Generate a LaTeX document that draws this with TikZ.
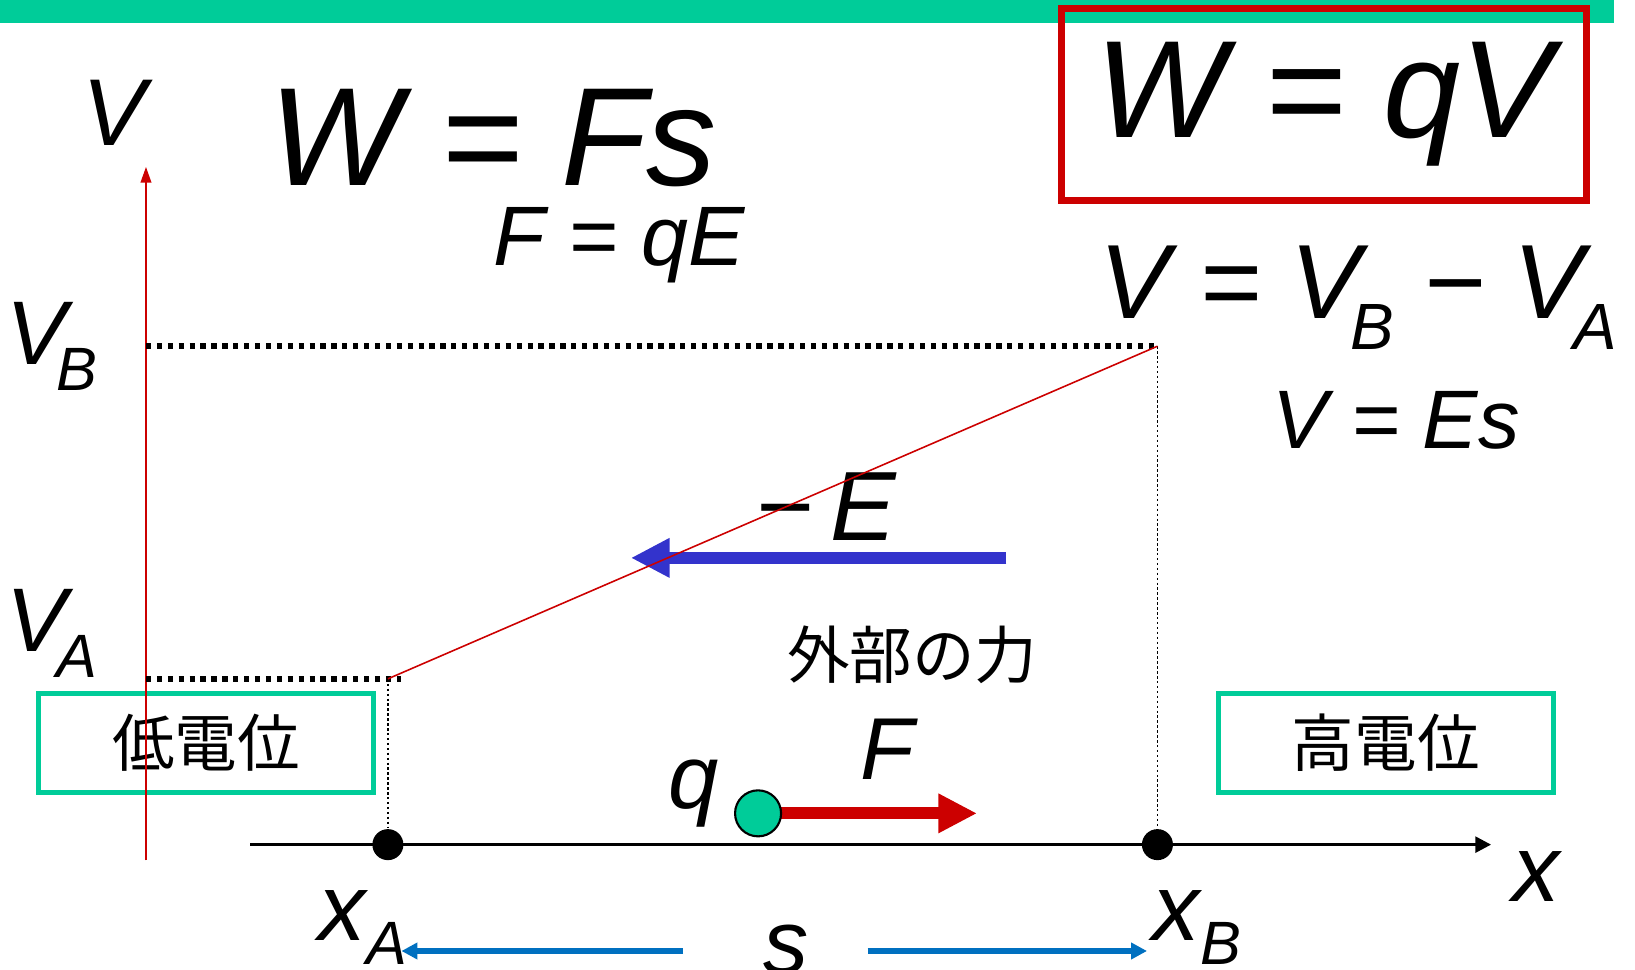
\documentclass[tikz,border=0pt]{standalone}
\usepackage{fontspec}
\setmainfont{Liberation Sans}
\newfontfamily\jpfont{Noto Sans CJK JP}
\usetikzlibrary{arrows.meta,positioning}
\definecolor{topgreen}{RGB}{0,204,153}
\definecolor{workred}{RGB}{204,0,0}
\definecolor{fieldblue}{RGB}{51,51,204}
\definecolor{spanblue}{RGB}{0,112,192}
\newcommand{\fsz}[1]{\fontsize{#1}{#1}\selectfont}
\newcommand{\lowsub}[3]{\raisebox{-#2}{\fsz{#1}#3}}
\tikzset{
    eq/.style={inner sep=0pt,anchor=base west,font=\itshape},
    potbox/.style={draw=topgreen,line width=1.5pt,minimum width=3.35cm,minimum height=0.99cm,inner sep=0pt,font=\jpfont\fsz{17.8pt}},
    levelline/.style={line width=1.7pt,dash pattern=on 1.5pt off 1.6pt},
    dropline/.style={line width=0.4pt,dash pattern=on 0.7pt off 0.7pt},
    blackdot/.style={circle,fill=black,inner sep=0pt,minimum size=0.31cm},
    fatarrow/.style={line width=3.4pt,-{Triangle[length=11pt,width=10.5pt]}},
    spanarrow/.style={spanblue,line width=1.5pt,-{Triangle[length=4.5pt,width=4.5pt]}},
}
\begin{document}
\begin{tikzpicture}[x=0.010427cm,y=-0.010427cm]
    \useasboundingbox (0,0) rectangle (1568,930);
    \fill[topgreen] (0,0) rectangle (1548,22);
    \node[draw=workred,line width=2pt,minimum width=5.245cm,minimum height=1.92cm,inner sep=0pt,font=\itshape\fsz{39.4pt}] (qvbox) at (1270,100) {W = qV};
    \node[eq,font=\itshape\fsz{39.8pt}] (wfs) at (258,178) {W = Fs};
    \node[eq,font=\itshape\fsz{24pt}] (fqe) at (473,255) {F = qE};
    \node[eq,font=\itshape\fsz{30pt}] (vdiff) at (1054,305) {V = V\kern-3pt\lowsub{18.6pt}{8.9pt}{B} − V\kern-3pt\lowsub{18.6pt}{8.9pt}{A}};
    \node[eq,font=\itshape\fsz{23.6pt}] (ves) at (1220,430) {V = Es};
    \node[eq,font=\itshape\fsz{27pt}] (vlabel) at (78,140) {V};
    \node[eq,font=\itshape\fsz{25.7pt}] (vblabel) at (6,350) {V\kern-3pt\lowsub{17.4pt}{7.4pt}{B}};
    \node[eq,font=\itshape\fsz{25.7pt}] (valabel) at (6,625) {V\kern-3pt\lowsub{17.4pt}{7.4pt}{A}};
    \node[eq,font=\itshape\fsz{28pt}] (elabel) at (724,518) {−\kern5pt E};
    \node[eq,font=\itshape\fsz{25pt}] (flabel) at (825,748) {F};
    \node[eq,font=\itshape\fsz{25.7pt}] (qlabel) at (640,775) {q};
    \node[eq,font=\itshape\fsz{26.9pt}] (xlabel) at (1450,865) {x};
    \node[eq,font=\itshape\fsz{26.9pt}] (xalabel) at (305,902) {x\lowsub{17.4pt}{6.8pt}{A}};
    \node[eq,font=\itshape\fsz{26.9pt}] (xblabel) at (1105,902) {x\lowsub{17.4pt}{6.8pt}{B}};
    \node[eq,font=\itshape\fsz{25.7pt}] (slabel) at (732,934) {s};
    \node[font=\jpfont\fsz{17.8pt},inner sep=0pt] (outer) at (875,628) {外部の力};
    \node[potbox] (lowpot) at (197.5,712.5) {低電位};
    \node[potbox] (highpot) at (1329,712.5) {高電位};
    \coordinate (vbot) at (140,825);
    \coordinate (vtop) at (140,160);
    \coordinate (xleft) at (240,810);
    \coordinate (xright) at (1430,810);
    \coordinate (lvA) at (140,651);
    \coordinate (lvB) at (140,332);
    \coordinate (pA) at (372,651);
    \coordinate (pAend) at (385,651);
    \coordinate (pB) at (1110,332);
    \draw[workred,line width=0.6pt,-{Triangle[length=4.5pt,width=3pt]}] (vbot) -- (vtop);
    \draw[line width=0.9pt,-{Triangle[length=4.5pt,width=4.5pt]}] (xleft) -- (xright);
    \node[blackdot] (xA) at (372,810) {};
    \node[blackdot] (xB) at (1110,810) {};
    \draw[levelline] (lvB) -- (pB);
    \draw[levelline] (lvA) -- (pAend);
    \draw[dropline] (pA) -- (xA);
    \draw[dropline] (pB) -- (xB);
    \coordinate (etail) at (965,535);
    \coordinate (ehead) at (605,535);
    \draw[fatarrow,fieldblue] (etail) -- (ehead);
    \draw[workred,line width=0.45pt] (pA) -- (pB);
    \coordinate (ftip) at (937,780);
    \draw[fatarrow,workred] (748,780) -- (ftip);
    \node[circle,fill=topgreen,draw=black,line width=0.6pt,minimum size=0.46cm,inner sep=0pt] (charge) at (727,780) {};
    \coordinate (sleft) at (655,912);
    \coordinate (sright) at (832,912);
    \draw[spanarrow] (sleft) -- (385,912);
    \draw[spanarrow] (sright) -- (1100,912);
\end{tikzpicture}
\end{document}
